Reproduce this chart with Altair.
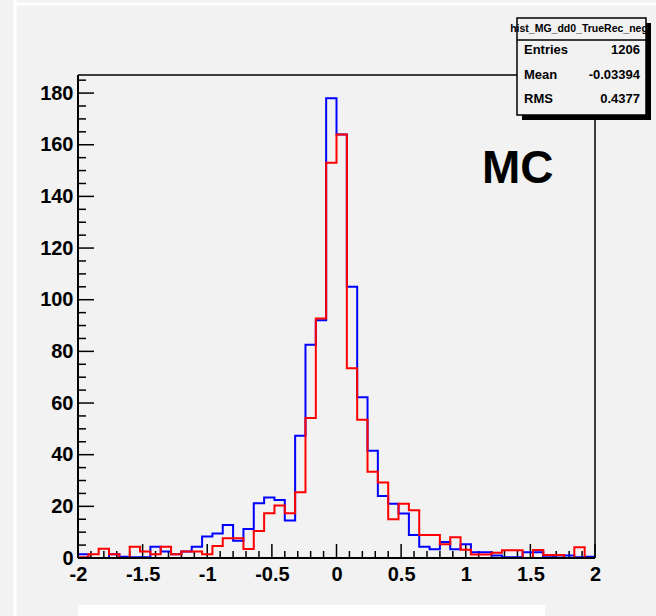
import altair as alt
import pandas as pd

# ---------------- data ----------------
x_min, x_max, n_bins = -2.0, 2.0, 50
blue_counts = [1.5, 0, 0, 1.5, 0.5, 0.3, 0.3, 4.4, 2.5, 1.5, 2.5, 4.4, 8.3, 9.5, 12.8,
               6.7, 11.2, 21.2, 23.4, 22.5, 14.5, 47.3, 82.6, 92, 178, 164, 105, 62.2,
               41.5, 24, 21, 17.2, 8.9, 4.4, 3.4, 6.2, 3.4, 5.3, 2.2, 2.2, 1, 0.3, 0.3,
               2.2, 2.2, 0.3, 1, 1, 0.3, 0.5]
red_counts = [0.3, 1.5, 3.6, 1.5, 0, 4.4, 2.5, 1.5, 4.4, 1.5, 2.5, 2.5, 1.5, 4.6, 7.6,
              7.6, 3.5, 10.5, 17.3, 20.3, 17.3, 25.5, 54.2, 92.7, 153, 164, 73.5, 53.5,
              33.4, 29.2, 15, 21, 18.5, 8.9, 8.9, 5.3, 8, 3.2, 1.4, 1.4, 2, 3, 3, 0, 3.1,
              1.2, 1.2, 0, 4.2, 0]
x_tick_labels = [-2, -1.5, -1, -0.5, 0, 0.5, 1, 1.5, 2]
y_tick_labels = [0, 20, 40, 60, 80, 100, 120, 140, 160, 180]
x_minor_ticks = [round(-2 + 0.1 * i, 2) for i in range(41)]
y_minor_ticks = [5 * i for i in range(38)]
stats_title = "hist_MG_dd0_TrueRec_neg"
stats_names = ["Entries", "Mean", "RMS"]
stats_values = ["1206", "-0.03394", "0.4377"]
label_text = "MC"

W, H = 517, 483
Y_TOP = 187.0
bw = (x_max - x_min) / n_bins

def step_frame(counts, name):
    rows = [{"x": x_min, "y": 0, "i": 0, "s": name}]
    for k, c in enumerate(counts):
        rows.append({"x": x_min + k * bw, "y": c, "i": len(rows), "s": name})
    rows.append({"x": x_max, "y": counts[-1], "i": len(rows), "s": name})
    rows.append({"x": x_max, "y": 0, "i": len(rows), "s": name})
    return pd.DataFrame(rows)

xs = alt.Scale(domain=[x_min, x_max], nice=False, zero=False)
ys = alt.Scale(domain=[0, Y_TOP], nice=False, zero=False)
one = pd.DataFrame({"a": [0]})
FONT = "Liberation Sans"

lab_x = alt.Axis(values=x_tick_labels, labelExpr="toString(datum.value)", ticks=False,
                 domain=False, grid=False, title=None, labelFont=FONT, labelFontSize=20,
                 labelFontWeight="bold", labelColor="black", labelPadding=6,
                 labelFlush=False, labelOverlap=False)
lab_y = alt.Axis(values=y_tick_labels, labelExpr="toString(datum.value)", ticks=False,
                 domain=False, grid=False, title=None, labelFont=FONT, labelFontSize=20,
                 labelFontWeight="bold", labelColor="black", labelPadding=5,
                 labelOverlap=False)

def hist_layer(counts, name, color):
    return alt.Chart(step_frame(counts, name)).mark_line(
        interpolate="step-after", color=color, strokeWidth=2, clip=True
    ).encode(
        x=alt.X("x:Q", scale=xs, axis=lab_x),
        y=alt.Y("y:Q", scale=ys, axis=lab_y),
        order="i:Q",
    )

blue = hist_layer(blue_counts, "blue", "#0000ff")
red = hist_layer(red_counts, "red", "#ff0000")

# decorations (pixel positions relative to plot area)
def rule(x1, y1, x2, y2, color="black", w=1.5):
    return alt.Chart(one).mark_rule(color=color, strokeWidth=w).encode(
        x=alt.value(x1), x2=alt.value(x2), y=alt.value(y1), y2=alt.value(y2))

frame = [rule(0, 0, W, 0), rule(0, H, W, H, w=2), rule(0, 0, 0, H, w=2), rule(W, 0, W, H)]
pad_deco = [rule(-63, -75, -63, 541, color="white", w=3),
            rule(-63, -71, 578, -71, color="white", w=3)]
bottom_box = alt.Chart(one).mark_rect(fill="white").encode(
    x=alt.value(0), x2=alt.value(467), y=alt.value(530), y2=alt.value(545))

xmaj = pd.DataFrame({"t": x_tick_labels})
xmin_df = pd.DataFrame({"t": [v for v in x_minor_ticks if v not in x_tick_labels]})
ymaj = pd.DataFrame({"t": y_tick_labels})
ymin_df = pd.DataFrame({"t": [v for v in y_minor_ticks if v not in y_tick_labels]})

xt_major = alt.Chart(xmaj).mark_rule(color="black", strokeWidth=1.5).encode(
    x=alt.X("t:Q", scale=xs, axis=lab_x), y=alt.value(H), y2=alt.value(H - 14))
xt_minor = alt.Chart(xmin_df).mark_rule(color="black", strokeWidth=1.5).encode(
    x=alt.X("t:Q", scale=xs, axis=lab_x), y=alt.value(H), y2=alt.value(H - 7))
yt_major = alt.Chart(ymaj).mark_rule(color="black", strokeWidth=1.5).encode(
    y=alt.Y("t:Q", scale=ys, axis=lab_y), x=alt.value(0), x2=alt.value(16))
yt_minor = alt.Chart(ymin_df).mark_rule(color="black", strokeWidth=1.5).encode(
    y=alt.Y("t:Q", scale=ys, axis=lab_y), x=alt.value(0), x2=alt.value(8))

mc = alt.Chart(one).mark_text(font=FONT, fontSize=46, fontWeight="bold", align="left",
                              baseline="alphabetic", color="black").encode(
    x=alt.value(404), y=alt.value(108), text=alt.value(label_text))

# stats box
BX1, BX2, BY1, BY2 = 439, 568, -57, 40
shadow = alt.Chart(one).mark_rect(fill="black").encode(
    x=alt.value(BX1 + 5), x2=alt.value(BX2 + 5), y=alt.value(BY1 + 5), y2=alt.value(BY2 + 5))
box = alt.Chart(one).mark_rect(fill="#f2f2f2", stroke="black", strokeWidth=1.5).encode(
    x=alt.value(BX1), x2=alt.value(BX2), y=alt.value(BY1), y2=alt.value(BY2))
sep = rule(BX1, -35, BX2, -35)
title_t = alt.Chart(one).mark_text(font=FONT, fontSize=10.5, fontWeight="bold", align="center",
                                   baseline="middle", color="black").encode(
    x=alt.value(501), y=alt.value(-46), text=alt.value(stats_title))

row_y = [-25, 0, 24]
stat_texts = []
for name, val, yy in zip(stats_names, stats_values, row_y):
    stat_texts.append(alt.Chart(one).mark_text(
        font=FONT, fontSize=13, fontWeight="bold", align="left", baseline="middle",
        color="black").encode(x=alt.value(446), y=alt.value(yy), text=alt.value(name)))
    stat_texts.append(alt.Chart(one).mark_text(
        font=FONT, fontSize=13, fontWeight="bold", align="right", baseline="middle",
        color="black").encode(x=alt.value(562), y=alt.value(yy), text=alt.value(val)))

chart = alt.layer(
    *pad_deco, bottom_box, xt_minor, xt_major, yt_minor, yt_major,
    blue, red, *frame, mc, shadow, box, sep, title_t, *stat_texts
).properties(
    width=W, height=H,
    autosize=alt.AutoSizeParams(type="none"),
    padding={"left": 78, "top": 75, "right": 61, "bottom": 58},
    background="#f2f2f2",
).configure_view(stroke=None)

chart.save("out.html", embed_options={"renderer": "svg", "actions": False})
